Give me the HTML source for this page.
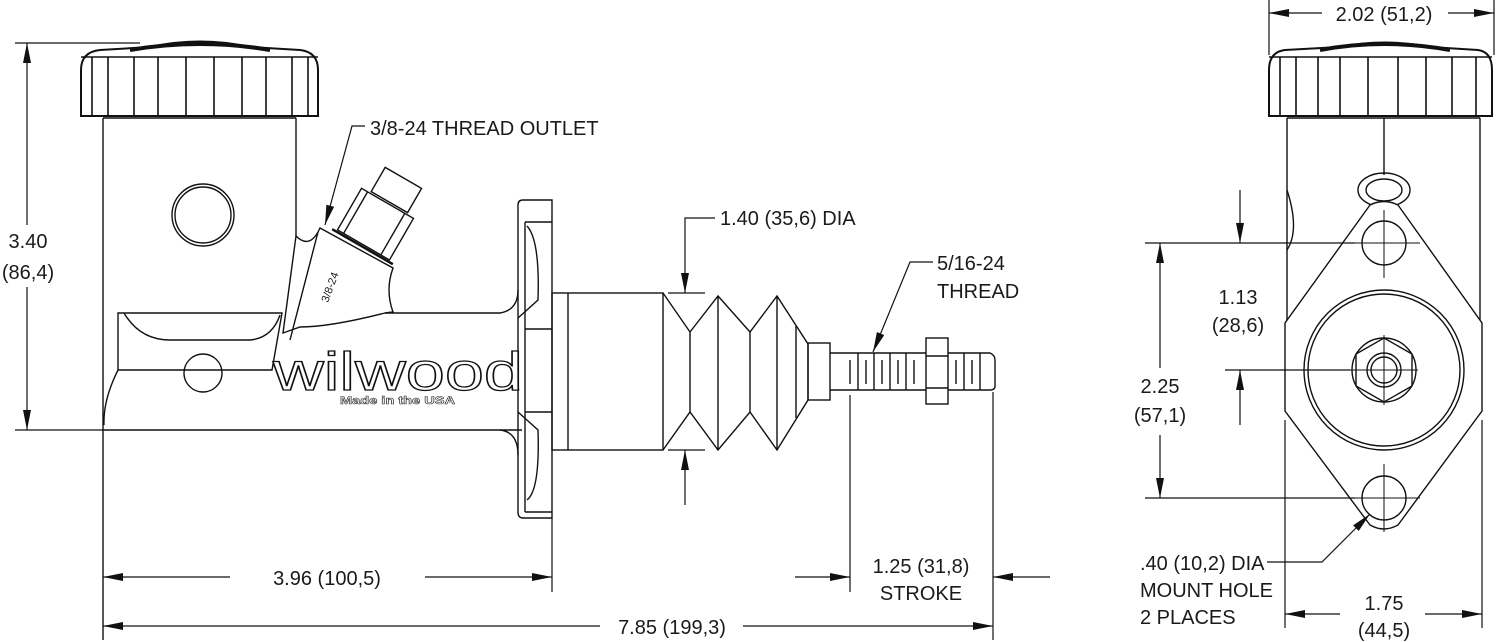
<!DOCTYPE html>
<html><head><meta charset="utf-8">
<style>
html,body{margin:0;padding:0;background:#fff;}
svg{display:block;}
text{font-family:"Liberation Sans",Arial,sans-serif;font-size:20px;fill:#1a1a1a;}
</style></head>
<body>
<svg width="1500" height="642" viewBox="0 0 1500 642" xmlns="http://www.w3.org/2000/svg">
<defs>
<marker id="a" viewBox="0 0 20 8" refX="20" refY="4" markerWidth="20" markerHeight="8" markerUnits="userSpaceOnUse" orient="auto-start-reverse">
<path d="M0,0 L20,4 L0,8 Z" fill="#111"/>
</marker>
</defs>
<g fill="none" stroke="#111" stroke-width="1.4">
<path d="M150,47 Q200,36 250,47 L300,50 Q318,52 318,70 L318,116 L81,116 L81,70 Q81,52 100,50 Z" stroke-width="2"/>
<line x1="81" y1="57" x2="318" y2="57"/>
<g stroke-width="1.6">
<line x1="92" y1="57" x2="92" y2="116"/><line x1="108" y1="57" x2="108" y2="116"/>
<line x1="134" y1="57" x2="134" y2="116"/><line x1="158" y1="57" x2="158" y2="116"/>
<line x1="186" y1="57" x2="186" y2="116"/><line x1="214" y1="57" x2="214" y2="116"/>
<line x1="242" y1="57" x2="242" y2="116"/><line x1="266" y1="57" x2="266" y2="116"/>
<line x1="292" y1="57" x2="292" y2="116"/><line x1="308" y1="57" x2="308" y2="116"/>
</g>
<path d="M130,50 Q200,38 270,50" stroke-width="4"/>
<path d="M103,118 L103,640"/>
<path d="M296,118 L296,236"/>
<line x1="103" y1="118" x2="296" y2="118"/>
<circle cx="203" cy="215" r="31"/><circle cx="203" cy="215" r="28"/>
<path d="M103,430 L522,430"/>
<path d="M385,313 L500,313 Q518,310 518,290"/>
<path d="M500,430 Q518,432 518,455"/>
<path d="M118,313 L282,313 L272,370 L118,370 Z"/>
<path d="M124,313 Q140,340 170,340 L250,340 Q272,338 280,315"/>
<path d="M118,370 Q103,400 104,425"/>
<circle cx="203" cy="373" r="19"/>
<path d="M283,333 L296,236 Q310,250 320,228 L393,268 Q385,290 393,312 L385,313 Q330,327 300,327 Z"/>
<path d="M290,340 L318,232"/>
<g transform="rotate(30 375 225)">
<rect x="345" y="200" width="60" height="48"/>
<line x1="352" y1="200" x2="352" y2="248"/><line x1="395" y1="200" x2="395" y2="248"/>
<rect x="355" y="170" width="42" height="28"/>
<line x1="340" y1="250" x2="410" y2="250" stroke-width="2.5"/>
</g>
<path d="M518,205 Q518,200 523,200 L552,200 L552,518 L523,518 Q518,518 518,512 Z"/>
<line x1="525" y1="222" x2="552" y2="222"/><line x1="525" y1="222" x2="525" y2="512"/>
<line x1="525" y1="512" x2="552" y2="512"/>
<path d="M527,226 Q540,240 538,300 L518,318"/>
<path d="M527,500 Q540,490 538,430 L518,412"/>
<line x1="525" y1="329" x2="552" y2="329"/><line x1="525" y1="412" x2="552" y2="412"/>
<rect x="552" y="293" width="111" height="157"/>
<line x1="568" y1="293" x2="568" y2="450"/>
<path d="M663,293 L690,332 L718,296 L750,332 L777,296 L808,344 L808,400 L777,450 L750,412 L718,450 L690,412 L663,450"/>
<line x1="690" y1="332" x2="690" y2="412"/><line x1="718" y1="296" x2="718" y2="450"/>
<line x1="750" y1="332" x2="750" y2="412"/><line x1="777" y1="296" x2="777" y2="450"/>
<line x1="796" y1="326" x2="796" y2="418"/>
<rect x="808" y="343" width="22" height="57"/>
<path d="M830,353 L990,353 Q995,355 995,360 L995,386 Q995,390 990,390 L830,390"/>
<g>
<line x1="850" y1="360" x2="850" y2="384"/><line x1="858" y1="353" x2="858" y2="390"/>
<line x1="866" y1="360" x2="866" y2="384"/><line x1="874" y1="353" x2="874" y2="390"/>
<line x1="882" y1="360" x2="882" y2="384"/><line x1="890" y1="353" x2="890" y2="390"/>
<line x1="898" y1="360" x2="898" y2="384"/><line x1="906" y1="353" x2="906" y2="390"/>
<line x1="914" y1="360" x2="914" y2="384"/><line x1="956" y1="360" x2="956" y2="384"/>
<line x1="964" y1="353" x2="964" y2="390"/><line x1="972" y1="360" x2="972" y2="384"/>
<line x1="980" y1="353" x2="980" y2="390"/>
</g>
<rect x="926" y="338" width="22" height="66" fill="#fff"/>
<line x1="926" y1="356" x2="948" y2="356"/><line x1="926" y1="388" x2="948" y2="388"/>

<path d="M1340,47 Q1384,38 1430,47 L1478,50 Q1492,52 1492,70 L1492,116 L1269,116 L1269,70 Q1269,52 1285,50 Z" stroke-width="2"/>
<line x1="1269" y1="57" x2="1492" y2="57"/>
<g stroke-width="1.6">
<line x1="1280" y1="57" x2="1280" y2="116"/><line x1="1296" y1="57" x2="1296" y2="116"/>
<line x1="1318" y1="57" x2="1318" y2="116"/><line x1="1340" y1="57" x2="1340" y2="116"/>
<line x1="1368" y1="57" x2="1368" y2="116"/><line x1="1398" y1="57" x2="1398" y2="116"/>
<line x1="1426" y1="57" x2="1426" y2="116"/><line x1="1452" y1="57" x2="1452" y2="116"/>
<line x1="1476" y1="57" x2="1476" y2="116"/>
</g>
<path d="M1320,50 Q1384,38 1450,50" stroke-width="4"/>
<line x1="1287" y1="118" x2="1287" y2="330"/><line x1="1480" y1="118" x2="1480" y2="330"/>
<line x1="1287" y1="118" x2="1480" y2="118"/>
<line x1="1384" y1="118" x2="1384" y2="175"/>
<ellipse cx="1384" cy="190" rx="26" ry="17"/><ellipse cx="1384" cy="190" rx="18" ry="11"/>
<path d="M1287,190 Q1300,230 1287,250"/>
<path d="M1370,205 Q1384,198 1398,205 L1482,323 L1482,411 L1398,525 Q1384,533 1370,525 L1285,411 L1285,323 Z" fill="#fff"/>
<circle cx="1384" cy="243" r="22"/><circle cx="1384" cy="498" r="22"/>
<circle cx="1384" cy="370" r="80"/><circle cx="1384" cy="370" r="76"/>
<polygon points="1384,338 1412,354 1412,386 1384,402 1356,386 1356,354"/>
<circle cx="1384" cy="370" r="32"/>
<circle cx="1384" cy="370" r="17"/><circle cx="1384" cy="370" r="13"/>
<g stroke-width="1">
<line x1="1384" y1="210" x2="1384" y2="278"/><line x1="1350" y1="243" x2="1420" y2="243"/>
<line x1="1384" y1="464" x2="1384" y2="532"/><line x1="1350" y1="498" x2="1420" y2="498"/>
<line x1="1384" y1="335" x2="1384" y2="405"/><line x1="1350" y1="370" x2="1418" y2="370"/>
</g>

<g stroke-width="1.2">
<line x1="15" y1="43" x2="140" y2="43"/><line x1="15" y1="430" x2="103" y2="430"/>
<line x1="27" y1="43" x2="27" y2="225" marker-start="url(#a)"/>
<line x1="27" y1="287" x2="27" y2="430" marker-end="url(#a)"/>
<line x1="552" y1="518" x2="552" y2="592"/>
<line x1="103" y1="577" x2="230" y2="577" marker-start="url(#a)"/>
<line x1="425" y1="577" x2="552" y2="577" marker-end="url(#a)"/>
<line x1="103" y1="626" x2="600" y2="626" marker-start="url(#a)"/>
<line x1="743" y1="626" x2="993" y2="626" marker-end="url(#a)"/>
<line x1="850" y1="395" x2="850" y2="592"/><line x1="993" y1="392" x2="993" y2="640"/>
<line x1="795" y1="577" x2="850" y2="577" marker-end="url(#a)"/>
<line x1="1050" y1="577" x2="993" y2="577" marker-end="url(#a)"/>
<line x1="668" y1="293" x2="705" y2="293"/><line x1="668" y1="450" x2="705" y2="450"/>
<polyline points="715,218 685,218 685,293" marker-end="url(#a)"/>
<line x1="685" y1="505" x2="685" y2="450" marker-end="url(#a)"/>
<polyline points="933,262 910,262 873,352" marker-end="url(#a)"/>
<polyline points="365,126 352,126 325,225" marker-end="url(#a)"/>
<line x1="1269" y1="0" x2="1269" y2="55"/><line x1="1494" y1="0" x2="1494" y2="55"/>
<line x1="1322" y1="13" x2="1269" y2="13" marker-end="url(#a)"/>
<line x1="1448" y1="13" x2="1494" y2="13" marker-end="url(#a)"/>
<line x1="1145" y1="243" x2="1355" y2="243"/><line x1="1145" y1="498" x2="1355" y2="498"/>
<line x1="1160" y1="243" x2="1160" y2="368" marker-start="url(#a)"/>
<line x1="1160" y1="435" x2="1160" y2="498" marker-end="url(#a)"/>
<line x1="1225" y1="370" x2="1350" y2="370"/>
<line x1="1240" y1="190" x2="1240" y2="243" marker-end="url(#a)"/>
<line x1="1240" y1="425" x2="1240" y2="370" marker-end="url(#a)"/>
<line x1="1285" y1="420" x2="1285" y2="628"/><line x1="1482" y1="420" x2="1482" y2="628"/>
<line x1="1340" y1="614" x2="1285" y2="614" marker-end="url(#a)"/>
<line x1="1425" y1="614" x2="1482" y2="614" marker-end="url(#a)"/>
<polyline points="1267,562 1322,562 1370,514" marker-end="url(#a)"/>
</g>
</g>

<text x="273" y="390" style="font-family:'Liberation Sans',sans-serif;font-size:54px;fill:#fff;stroke:#111;stroke-width:1.3;" textLength="250" lengthAdjust="spacingAndGlyphs">wilwood</text>
<text x="340" y="404" style="font-size:11px;font-weight:bold;fill:#fff;stroke:#333;stroke-width:0.6;" textLength="115" lengthAdjust="spacingAndGlyphs">Made in the USA</text>
<text x="0" y="0" transform="translate(328,303) rotate(-70)" style="font-size:11px;">3/8-24</text>

<text x="28" y="248" text-anchor="middle">3.40</text>
<text x="28" y="279" text-anchor="middle">(86,4)</text>
<text x="370" y="135">3/8-24 THREAD OUTLET</text>
<text x="720" y="225">1.40 (35,6) DIA</text>
<text x="937" y="270">5/16-24</text>
<text x="937" y="298">THREAD</text>
<text x="327" y="585" text-anchor="middle">3.96 (100,5)</text>
<text x="672" y="634" text-anchor="middle">7.85 (199,3)</text>
<text x="921" y="573" text-anchor="middle">1.25 (31,8)</text>
<text x="921" y="600" text-anchor="middle">STROKE</text>
<text x="1384" y="21" text-anchor="middle">2.02 (51,2)</text>
<text x="1238" y="304" text-anchor="middle">1.13</text>
<text x="1238" y="332" text-anchor="middle">(28,6)</text>
<text x="1160" y="393" text-anchor="middle">2.25</text>
<text x="1160" y="422" text-anchor="middle">(57,1)</text>
<text x="1140" y="570">.40 (10,2) DIA</text>
<text x="1140" y="597">MOUNT HOLE</text>
<text x="1140" y="624">2 PLACES</text>
<text x="1384" y="610" text-anchor="middle">1.75</text>
<text x="1384" y="637" text-anchor="middle">(44,5)</text>
</svg>
</body></html>
